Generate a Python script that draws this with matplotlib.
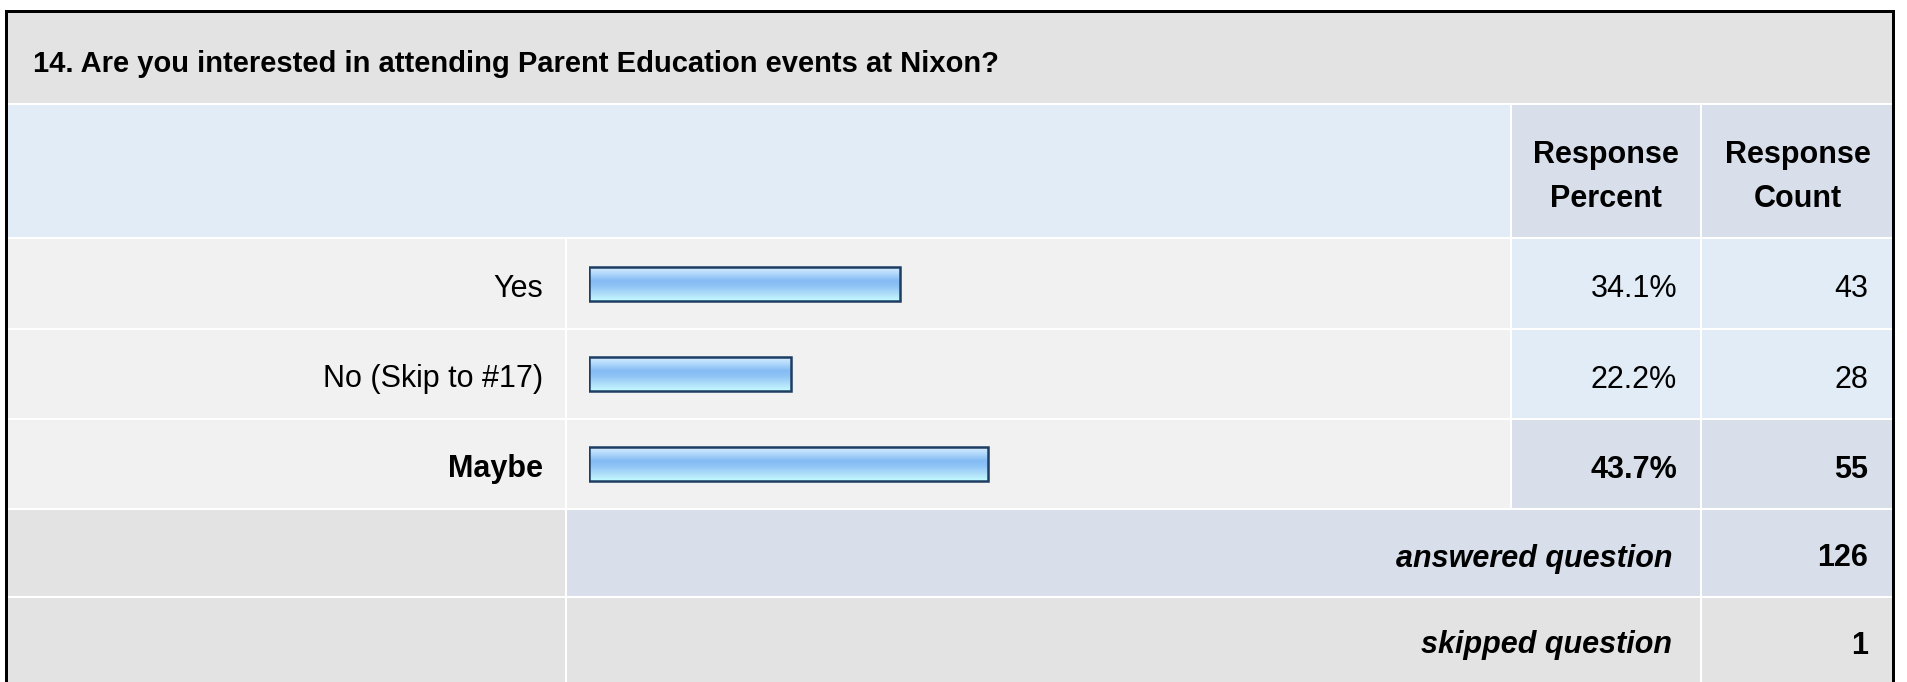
import numpy as np
import matplotlib.pyplot as plt
from matplotlib.patches import Rectangle
from matplotlib.colors import LinearSegmentedColormap

plt.rcParams['font.family'] = ['Liberation Sans', 'DejaVu Sans']

question = "14. Are you interested in attending Parent Education events at Nixon?"
header_percent = ["Response", "Percent"]
header_count = ["Response", "Count"]
answers = ["Yes", "No (Skip to #17)", "Maybe"]
percents = [34.1, 22.2, 43.7]
counts = [43, 28, 55]
answered = 126
skipped = 1

W, H = 1907, 682
FS_T = 21
FS = 22
DROP = 13.5  # baseline below row centre

# column / row edges in pixels
col_label = (8, 565)
col_bar = (567, 1510)
col_pct = (1512, 1700)
col_cnt = (1702, 1892)
row_title = (13, 103)
row_head = (105, 237)
rows_data = [(239, 328), (330, 418), (420, 508)]
row_ans = (510, 596)
row_skip = (598, 690)

GREY = '#e3e3e3'
LIGHT = '#f1f1f1'
BLUE = '#e2ecf6'
BLUE2 = '#d8dfeb'

fig = plt.figure(figsize=(W / 100, H / 100), dpi=100)
ax = fig.add_axes([0, 0, 1, 1])
ax.set_xlim(0, W)
ax.set_ylim(H, 0)
ax.axis('off')


def cell(xr, yr, color):
    ax.add_patch(Rectangle((xr[0], yr[0]), xr[1] - xr[0], yr[1] - yr[0],
                           facecolor=color, edgecolor='none', lw=0))


def label(x, y, s, ha='right', **kw):
    ax.text(x, y, s, fontsize=kw.pop('fontsize', FS), ha=ha, va='baseline',
            color='black', **kw)


# outer frame
ax.add_patch(Rectangle((5, 10), 1890, 700, facecolor='black', edgecolor='none'))
ax.add_patch(Rectangle((8, 13), 1884, 700, facecolor='white', edgecolor='none'))

cell((8, 1892), row_title, GREY)
label(33, 72, question, ha='left', fontsize=FS_T, fontweight='bold')

cell((8, 1510), row_head, BLUE)
cell(col_pct, row_head, BLUE2)
cell(col_cnt, row_head, BLUE2)
for k, yb in enumerate([163, 207]):
    label(sum(col_pct) / 2, yb, header_percent[k], ha='center', fontweight='bold')
    label(sum(col_cnt) / 2 + 1, yb, header_count[k], ha='center', fontweight='bold')

top = int(np.argmax(percents))
for i, yr in enumerate(rows_data):
    cell(col_label, yr, LIGHT)
    cell(col_bar, yr, LIGHT)
    c = BLUE2 if i == top else BLUE
    cell(col_pct, yr, c)
    cell(col_cnt, yr, c)
    fw = 'bold' if i == top else 'normal'
    yb = sum(yr) / 2 + DROP
    label(543, yb, answers[i], fontweight=fw)
    label(1677, yb, f"{percents[i]:.1f}%", fontweight=fw)
    label(1868, yb, str(counts[i]), fontweight=fw)

cell(col_label, row_ans, GREY)
cell((567, 1700), row_ans, BLUE2)
cell(col_cnt, row_ans, BLUE2)
yb = sum(row_ans) / 2 + DROP
label(1672, yb, "answered question", fontweight='bold', fontstyle='italic')
label(1868, yb, str(answered), fontweight='bold')

cell(col_label, row_skip, GREY)
cell((567, 1700), row_skip, GREY)
cell(col_cnt, row_skip, GREY)
yb = (row_skip[0] + H) / 2 + DROP
label(1672, yb, "skipped question", fontweight='bold', fontstyle='italic')
label(1868, yb, str(skipped), fontweight='bold')

# bar chart axes: 100% spans 912 px starting at x=589
bx0, bw = 589, 912
by0, by1 = 239, 509
bax = fig.add_axes([bx0 / W, 1 - by1 / H, bw / W, (by1 - by0) / H])
bax.axis('off')
bax.patch.set_alpha(0)

grad = LinearSegmentedColormap.from_list('bar', [
    (0.0, '#dcf1ff'), (0.2, '#b4dafc'), (0.42, '#84bbf3'), (0.58, '#8fc4f6'),
    (0.8, '#b0def9'), (1.0, '#c2fbff')])
bh = 0.38
img = np.linspace(0, 1, 64).reshape(-1, 1)
for i, p in enumerate(percents):
    bax.imshow(img, cmap=grad, aspect='auto', interpolation='bilinear',
               extent=(0, p, i + bh / 2, i - bh / 2), zorder=1)
bax.barh(range(len(answers)), percents, height=bh, facecolor='none',
         edgecolor='#1e3d63', linewidth=1.8, zorder=2)
bax.set_xlim(0, 100)
bax.set_ylim(len(answers) - 0.5, -0.5)

fig.savefig('out.png', dpi=100)
